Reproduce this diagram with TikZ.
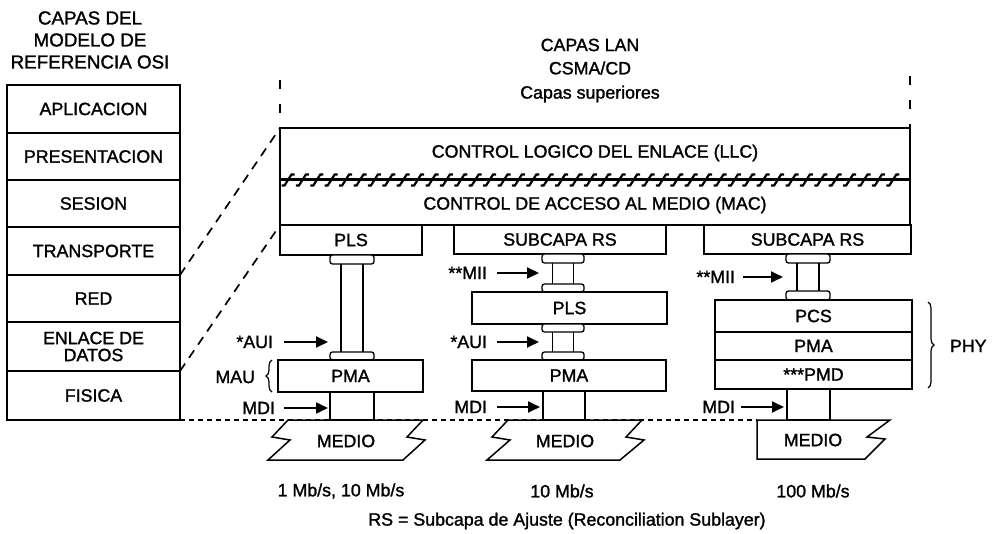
\documentclass[tikz,border=0pt]{standalone}
\usepackage{fontspec}
\setmainfont{Liberation Sans}[FakeBold=1.4]
\usetikzlibrary{arrows.meta,decorations.pathreplacing}
\begin{document}
\begin{tikzpicture}[x=1pt,y=-1pt, line width=1.3pt,
  every node/.style={font=\fontsize{17.8}{19}\selectfont, inner sep=0pt, outer sep=0pt},
  box/.style={draw, rectangle, line width=1.5pt, fill=white},
  capbox/.style={draw, rectangle, rounded corners=2.5pt, line width=1.3pt, fill=white},
  arr/.style={line width=1.8pt, -{Triangle[length=12pt,width=11pt]}},
  persp/.style={line width=1.7pt, dash pattern=on 9pt off 7pt},
  vdash/.style={line width=1.7pt, dash pattern=on 9pt off 15pt},
  dotline/.style={line width=1.1pt, dash pattern=on 5pt off 4pt},
  lbl/.style={anchor=east},
  medio/.style={draw, fill=white, line width=1.5pt, line join=miter},
  brc/.style={decorate, decoration={brace, amplitude=6pt}, line width=1.2pt},
]
\useasboundingbox (0,0) rectangle (1003,534);

% ---------- OSI column ----------
\node[align=center, font=\fontsize{18.8}{22}\selectfont] (osititle) at (90,40) {CAPAS DEL\\MODELO DE\\REFERENCIA OSI};
\node[box, minimum width=173, minimum height=48] (apl) at (93.5,109) {APLICACION};
\node[box, minimum width=173, minimum height=47] (pre) at (93.5,156.5) {PRESENTACION};
\node[box, minimum width=173, minimum height=47] (ses) at (93.5,203.5) {SESION};
\node[box, minimum width=173, minimum height=48] (tra) at (93.5,251) {TRANSPORTE};
\node[box, minimum width=173, minimum height=47] (red) at (93.5,298.5) {RED};
\node[box, minimum width=173, minimum height=49, align=center, font=\fontsize{17.8}{17}\selectfont] (enl) at (93.5,346.5) {ENLACE DE\\DATOS};
\node[box, minimum width=173, minimum height=49] (fis) at (93.5,395.5) {FISICA};

% ---------- LAN header ----------
\node (lan1) at (590,45) {CAPAS LAN};
\node (lan2) at (590,68) {CSMA/CD};
\node (lan3) at (590,94) {Capas superiores};

% ---------- LLC / MAC ----------
\node[box, minimum width=630, minimum height=52] (llc) at (595,154) {};
\node[box, minimum width=630, minimum height=45] (mac) at (595,202.5) {};
\node (llct) at (595,153) {CONTROL LOGICO DEL ENLACE (LLC)};
\node (mact) at (595,205) {CONTROL DE ACCESO AL MEDIO (MAC)};
\draw[line width=3pt] (llc.south west) -- (llc.south east);
\foreach \x in {288,302.4,...,906}{
  \draw[line width=2.2pt] (\x-6.5,185.5) -- (\x-3.5,185.5) -- (\x+3.5,174.5) -- (\x+6.5,174.5);
}

% dashed guides
\coordinate (vl) at (280,80);
\coordinate (vr) at (910,76);
\draw[vdash] (vl) -- (llc.north west);
\draw[vdash] (vr) -- (llc.north east);
\draw[persp] (red.north east) -- (llc.north west);
\draw[persp] (fis.north east) -- (mac.south west);
\coordinate (m3tl) at (757,420);
\draw[dotline] (fis.south east) -- (m3tl);

% ---------- Column 1 ----------
\node[box, minimum width=142, minimum height=30] (pls1) at (351,240) {PLS};
\node[capbox, minimum width=44, minimum height=9] (c1a) at (352,259.5) {};
\node[capbox, minimum width=44, minimum height=8] (c1b) at (352,356) {};
\draw ([xshift=-11pt]c1a.south) -- ([xshift=-11pt]c1b.north);
\draw ([xshift=11pt]c1a.south) -- ([xshift=11pt]c1b.north);
\node[box, minimum width=145, minimum height=32] (pma1) at (350.5,376) {PMA};
\node[box, minimum width=44, minimum height=28] (mdi1) at (352,406) {};
\draw[medio] (288,420) -- (272,437) -- (290,440) -- (268,460) -- (403,460)
  -- (425,440) -- (407,437) -- (423,420) -- cycle;
\node (m1) at (346,441) {MEDIO};

\node[lbl] (aui1) at (273,342) {*AUI};
\coordinate (aui1t) at (328,342);
\draw[arr] ([xshift=11pt]aui1.east) -- (aui1t);
\node[lbl] (mau) at (255,377) {MAU};
\coordinate (maub) at (272,392);
\coordinate (maut) at (272,360);
\draw[brc] (maub) -- (maut);
\node[lbl] (mdil1) at (275,408) {MDI};
\coordinate (mdi1t) at (328,408);
\draw[arr] ([xshift=9pt]mdil1.east) -- (mdi1t);

% ---------- Column 2 ----------
\node[box, minimum width=212, minimum height=29] (rs2) at (560,239.5) {SUBCAPA RS};
\node[capbox, minimum width=42, minimum height=9] (c2a) at (563,258.5) {};
\node[capbox, minimum width=42, minimum height=8] (c2b) at (563,288) {};
\draw ([xshift=-10.5pt]c2a.south) -- ([xshift=-10.5pt]c2b.north);
\draw ([xshift=10.5pt]c2a.south) -- ([xshift=10.5pt]c2b.north);
\node[box, minimum width=195, minimum height=32] (pls2) at (569.5,308) {PLS};
\node[capbox, minimum width=42, minimum height=8] (c2c) at (563,328) {};
\node[capbox, minimum width=42, minimum height=8] (c2d) at (563,356) {};
\draw ([xshift=-10.5pt]c2c.south) -- ([xshift=-10.5pt]c2d.north);
\draw ([xshift=10.5pt]c2c.south) -- ([xshift=10.5pt]c2d.north);
\node[box, minimum width=194, minimum height=31] (pma2) at (569,375.5) {PMA};
\node[box, minimum width=42, minimum height=29] (mdi2) at (564,405.5) {};
\draw[medio] (508,420) -- (492,437) -- (510,440) -- (487,460) -- (620,460)
  -- (644,440) -- (626,437) -- (642,420) -- cycle;
\node (m2) at (565,441) {MEDIO};

\node[lbl] (mii2) at (487,273) {**MII};
\coordinate (mii2t) at (539,273);
\draw[arr] ([xshift=10pt]mii2.east) -- (mii2t);
\node[lbl] (aui2) at (487,342) {*AUI};
\coordinate (aui2t) at (539,342);
\draw[arr] ([xshift=10pt]aui2.east) -- (aui2t);
\node[lbl] (mdil2) at (487,407) {MDI};
\coordinate (mdi2t) at (540,407);
\draw[arr] ([xshift=10pt]mdil2.east) -- (mdi2t);

% ---------- Column 3 ----------
\node[box, minimum width=207, minimum height=29] (rs3) at (807.5,239.5) {SUBCAPA RS};
\node[capbox, minimum width=44, minimum height=9] (c3a) at (808,258.5) {};
\node[capbox, minimum width=44, minimum height=9] (c3b) at (808,295.5) {};
\draw ([xshift=-11pt]c3a.south) -- ([xshift=-11pt]c3b.north);
\draw ([xshift=11pt]c3a.south) -- ([xshift=11pt]c3b.north);
\node[box, minimum width=197, minimum height=32] (pcs) at (813.5,316) {PCS};
\node[box, minimum width=197, minimum height=28] (pma3) at (813.5,346) {PMA};
\node[box, minimum width=197, minimum height=29] (pmd) at (813.5,374.5) {***PMD};
\node[box, minimum width=43, minimum height=31] (mdi3) at (808.5,404.5) {};
\draw[medio] (m3tl) -- (757,459) -- (865,459) -- (885,439) -- (867,437)
  -- (890,420) -- cycle;
\node (m3) at (813,440) {MEDIO};

\node[lbl] (mii3) at (735,277) {**MII};
\coordinate (mii3t) at (783,277);
\draw[arr] ([xshift=8pt]mii3.east) -- (mii3t);
\node[lbl] (mdil3) at (735,407) {MDI};
\coordinate (mdi3t) at (784,407);
\draw[arr] ([xshift=6pt]mdil3.east) -- (mdi3t);
\coordinate (phyt) at (928,302);
\coordinate (phyb) at (928,388);
\draw[brc] (phyt) -- (phyb);
\node[anchor=west] (phy) at (950,346) {PHY};

% ---------- bottom labels ----------
\node (sp1) at (341,491) {1 Mb/s, 10 Mb/s};
\node (sp2) at (562,491) {10 Mb/s};
\node (sp3) at (813,491) {100 Mb/s};
\node (rs) at (567,521) {RS = Subcapa de Ajuste (Reconciliation Sublayer)};
\end{tikzpicture}
\end{document}
